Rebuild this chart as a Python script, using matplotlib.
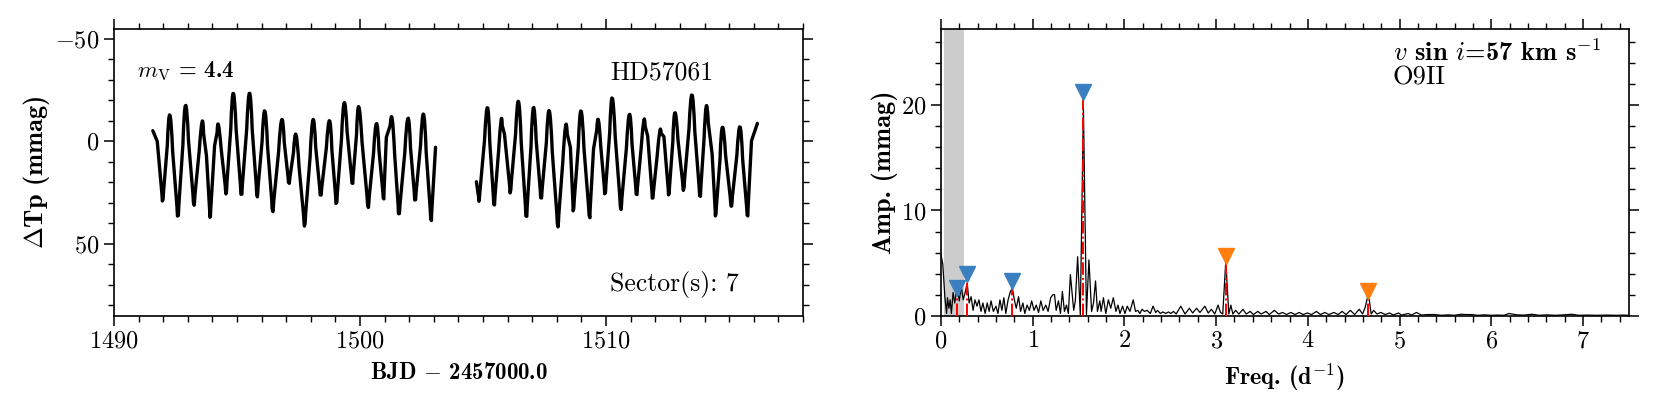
import numpy as np
import matplotlib
matplotlib.use("Agg")
from matplotlib import pyplot as plt
from matplotlib.ticker import MultipleLocator
from matplotlib.path import Path
from matplotlib.patches import PathPatch

plt.rcParams['font.family'] = 'serif'
plt.rcParams['font.serif'] = ['cmr10']
plt.rcParams['mathtext.fontset'] = 'cm'
plt.rcParams['axes.formatter.use_mathtext'] = True
plt.rcParams['axes.unicode_minus'] = True

# curva de luz, extremos (dos orbitas del sector 7)
t1 = [1491.58, 1491.76, 1491.98, 1492.27, 1492.60, 1492.91, 1493.25, 1493.58, 1493.76, 1493.91,
      1494.09, 1494.25, 1494.56, 1494.85, 1495.18, 1495.51, 1495.82, 1496.13, 1496.45, 1496.82,
      1497.11, 1497.40, 1497.75, 1498.09, 1498.40, 1498.76, 1499.04, 1499.36, 1499.69, 1499.95,
      1500.33, 1500.67, 1500.96, 1501.07, 1501.31, 1501.58, 1501.95, 1502.24, 1502.58, 1502.89,
      1503.07]
m1 = [-5.2, 0.0, 29.8, -13.0, 37.9, -17.7, 31.4, -9.6, 7.0, 37.9,
      2.1, -8.0, 25.7, -23.6, 27.3, -23.7, 27.3, -15.0, 34.6, -10.6,
      21.1, -3.3, 41.6, -10.6, 27.3, -10.2, 31.4, -18.9, 21.6, -16.9,
      32.5, -8.8, 28.9, -2.0, -10.9, 36.7, -11.4, 29.8, -13.3, 39.5,
      2.9]
t2 = [1504.73, 1504.84, 1505.18, 1505.45, 1505.73, 1505.87, 1506.11, 1506.44, 1506.76, 1507.05,
      1507.36, 1507.69, 1508.04, 1508.35, 1508.55, 1508.67, 1508.98, 1509.33, 1509.49, 1509.69,
      1509.96, 1510.25, 1510.60, 1510.95, 1511.24, 1511.53, 1511.69, 1511.89, 1512.18, 1512.35,
      1512.55, 1512.80, 1513.15, 1513.49, 1513.82, 1514.07, 1514.31, 1514.45, 1514.73, 1515.09,
      1515.44, 1515.75, 1515.91, 1516.15]
m2 = [19.7, 28.9, -16.6, 32.2, -10.1, -3.6, 25.2, -19.5, 38.2, -16.6,
      28.9, -15.0, 42.0, -7.3, 2.9, 34.6, -15.0, 38.0, 3.7, -10.4,
      26.5, -21.3, 33.5, -13.3, 27.0, -10.1, -2.6, 28.6, -4.9, -2.3,
      26.8, -14.1, 24.1, -22.8, 28.1, -17.2, 6.2, 37.1, -7.0, 31.9,
      -7.2, 37.4, -0.3, -8.8]

# espectro de amplitud
freq = [0.000, 0.020, 0.043, 0.061, 0.071, 0.086, 0.100, 0.114, 0.132, 0.150,
        0.168, 0.186, 0.200, 0.221, 0.243, 0.264, 0.286, 0.307, 0.329, 0.350,
        0.371, 0.393, 0.414, 0.436, 0.457, 0.482, 0.504, 0.525, 0.546, 0.571,
        0.600, 0.621, 0.643, 0.664, 0.686, 0.707, 0.732, 0.757, 0.779, 0.800,
        0.821, 0.846, 0.868, 0.893, 0.914, 0.939, 0.964, 0.989, 1.014, 1.039,
        1.064, 1.089, 1.114, 1.143, 1.168, 1.196, 1.221, 1.238, 1.256, 1.281,
        1.303, 1.324, 1.346, 1.368, 1.389, 1.411, 1.447, 1.465, 1.490, 1.519,
        1.553, 1.586, 1.613, 1.642, 1.663, 1.685, 1.706, 1.732, 1.746, 1.771,
        1.797, 1.825, 1.851, 1.879, 1.908, 1.930, 1.951, 1.980, 2.006, 2.031,
        2.060, 2.096, 2.121, 2.146, 2.168, 2.193, 2.218, 2.247, 2.283, 2.312,
        2.341, 2.362, 2.391, 2.420, 2.449, 2.481, 2.506, 2.535, 2.564, 2.614,
        2.661, 2.708, 2.744, 2.787, 2.823, 2.877, 2.913, 2.949, 2.985, 3.021,
        3.047, 3.072, 3.105, 3.138, 3.160, 3.182, 3.212, 3.248, 3.292, 3.328,
        3.371, 3.407, 3.454, 3.490, 3.544, 3.580, 3.634, 3.681, 3.724, 3.767,
        3.814, 3.861, 3.904, 3.948, 3.994, 4.041, 4.092, 4.139, 4.185, 4.229,
        4.283, 4.330, 4.373, 4.416, 4.463, 4.510, 4.560, 4.596, 4.625, 4.660,
        4.690, 4.717, 4.753, 4.796, 4.843, 4.890, 4.933, 4.987, 5.022, 5.094,
        5.130, 5.184, 5.238, 5.310, 5.382, 5.455, 5.527, 5.599, 5.671, 5.725,
        5.779, 5.851, 5.923, 5.995, 6.067, 6.139, 6.193, 6.229, 6.283, 6.355,
        6.446, 6.518, 6.608, 6.698, 6.788, 6.878, 6.950, 7.040, 7.148, 7.256,
        7.364, 7.437, 7.500]
amp = [5.8, 4.9, 1.7, 0.2, 1.7, 0.7, 1.5, 0.2, 2.2, 1.2,
       2.3, 2.1, 1.4, 2.8, 1.5, 2.2, 3.1, 1.2, 1.8, 0.5,
       1.5, 0.9, 1.5, 0.4, 1.2, 0.2, 1.2, 0.4, 1.4, 0.4,
       0.9, 0.2, 1.5, 0.5, 1.7, 0.2, 1.5, 2.3, 2.6, 1.5,
       0.7, 1.8, 0.4, 1.2, 0.2, 1.0, 0.5, 1.4, 0.5, 1.0,
       0.3, 1.4, 0.5, 1.0, 0.4, 1.7, 2.0, 2.0, 0.5, 1.4,
       0.2, 2.3, 0.4, 1.0, 0.2, 3.9, 0.5, 1.4, 5.6, 0.1,
       19.8, 0.1, 5.3, 0.4, 1.2, 3.3, 0.4, 1.4, 0.4, 1.7,
       0.2, 1.5, 0.7, 1.7, 0.4, 1.0, 0.2, 0.9, 0.2, 0.9,
       0.4, 1.5, 0.4, 0.5, 0.2, 0.6, 0.4, 0.5, 0.2, 0.9,
       0.3, 0.5, 0.2, 0.35, 0.2, 0.35, 0.2, 0.4, 0.15, 0.9,
       0.15, 0.7, 0.25, 0.7, 0.3, 0.9, 0.25, 0.6, 0.15, 1.0,
       0.3, 0.15, 5.2, 0.15, 1.0, 0.15, 0.5, 0.15, 0.6, 0.15,
       0.4, 0.1, 0.4, 0.15, 0.4, 0.1, 0.5, 0.15, 0.3, 0.1,
       0.3, 0.1, 0.3, 0.1, 0.25, 0.1, 0.4, 0.1, 0.3, 0.1,
       0.3, 0.1, 0.4, 0.1, 0.5, 0.1, 0.6, 0.15, 0.8, 2.1,
       0.15, 0.5, 0.15, 0.3, 0.1, 0.25, 0.05, 0.25, 0.05, 0.2,
       0.05, 0.3, 0.05, 0.1, 0.1, 0.03, 0.07, 0.03, 0.13, 0.1,
       0.1, 0.03, 0.07, 0.03, 0.05, 0.03, 0.2, 0.15, 0.07, 0.05,
       0.13, 0.03, 0.07, 0.03, 0.07, 0.13, 0.03, 0.05, 0.03, 0.05,
       0.03, 0.05, 0.03]

# frecuencias marcadas (azul: independientes, naranja: armonicos)
f_azul = [0.18, 0.28, 0.775, 1.553]
a_azul = [2.6, 4.0, 3.3, 21.3]
f_nar = [3.105, 4.66]
a_nar = [5.65, 2.35]


def trazo_suave(t, m, r_max=0.35, r_min=0.12):
    "Camino que pasa por los extremos, redondeando los maximos (el eje y esta invertido)"
    p = np.column_stack([t, m])
    verts = [p[0]]
    codes = [Path.MOVETO]
    for i in range(1, len(p) - 1):
        if p[i, 1] < p[i - 1, 1] and p[i, 1] < p[i + 1, 1]:
            r = r_max
        elif p[i, 1] > p[i - 1, 1] and p[i, 1] > p[i + 1, 1]:
            r = r_min
        else:
            verts.append(p[i])
            codes.append(Path.LINETO)
            continue
        a = p[i] + r * (p[i - 1] - p[i])
        b = p[i] + r * (p[i + 1] - p[i])
        c = 2 * p[i] - 0.5 * (a + b)
        verts += [a, c, b]
        codes += [Path.LINETO, Path.CURVE3, Path.CURVE3]
    verts.append(p[-1])
    codes.append(Path.LINETO)
    return PathPatch(Path(verts, codes), facecolor='none', edgecolor='k', lw=2.4,
                     joinstyle='round', capstyle='round')


fig = plt.figure(figsize=(16.61, 4.15), dpi=100)
ax1 = fig.add_axes([0.0686, 0.2395, 0.4148, 0.6915])
ax2 = fig.add_axes([0.5665, 0.2395, 0.4142, 0.6915])

negrita = 'cmb10'
fs = 17.5

"Panel izquierdo: curva de luz"
ax1.add_patch(trazo_suave(t1, m1))
ax1.add_patch(trazo_suave(t2, m2))
ax1.set_xlim(1490, 1518)
ax1.set_ylim(85, -55)
ax1.xaxis.set_major_locator(MultipleLocator(10))
ax1.xaxis.set_minor_locator(MultipleLocator(1))
ax1.yaxis.set_major_locator(MultipleLocator(50))
ax1.yaxis.set_minor_locator(MultipleLocator(10))
ax1.set_xlabel(r'BJD ${-}$ 2457000.0', family=negrita, fontsize=16.5, labelpad=7)
ax1.set_ylabel(r'$\Delta$Tp (mmag)', family=negrita, fontsize=19, labelpad=2)
ax1.text(0.034, 0.852, r'$m_{\rm V}$ = 4.4', transform=ax1.transAxes, family=negrita,
         fontsize=16.5, va='center', ha='left')
ax1.text(0.72, 0.845, 'HD57061', transform=ax1.transAxes, fontsize=18.5, va='center')
ax1.text(0.72, 0.11, 'Sector(s): 7', transform=ax1.transAxes, fontsize=18.5, va='center')

"Panel derecho: periodograma"
ax2.axvspan(0.035, 0.25, color='0.8', lw=0, zorder=0)
ax2.plot(freq, amp, color='k', lw=0.9, zorder=2)
for f, a in zip(f_azul + f_nar, a_azul + a_nar):
    ax2.plot([f, f], [0, a - 0.6], color='red', ls='-.', lw=1.4, zorder=3)
ax2.plot(f_azul, a_azul, 'v', color='#3a7fc0', ms=11, zorder=4)
ax2.plot(f_nar, a_nar, 'v', color='#ff7f0e', ms=11, zorder=4)
ax2.set_xlim(0, 7.5)
ax2.set_ylim(0, 27.3)
ax2.xaxis.set_major_locator(MultipleLocator(1))
ax2.xaxis.set_minor_locator(MultipleLocator(0.2))
ax2.yaxis.set_major_locator(MultipleLocator(10))
ax2.yaxis.set_minor_locator(MultipleLocator(2))
ax2.set_xlabel(r'Freq. (d$^{-1}$)', family=negrita, fontsize=17.5, labelpad=7)
ax2.set_ylabel('Amp. (mmag)', family=negrita, fontsize=19, labelpad=2)
ax2.text(0.657, 0.915, r'$v$ sin $i$=57 km s$^{-1}$', transform=ax2.transAxes,
         family=negrita, fontsize=19, va='center')
ax2.text(0.657, 0.83, 'O9II', transform=ax2.transAxes, fontsize=19, va='center')

for ax in (ax1, ax2):
    ax.tick_params(which='both', direction='out', top=True, right=True, labelsize=fs)
    ax.tick_params(which='major', length=7, width=1.1)
    ax.tick_params(which='minor', length=4, width=1.0)
    for s in ax.spines.values():
        s.set_linewidth(1.2)

fig.savefig('out.png', dpi=100)
